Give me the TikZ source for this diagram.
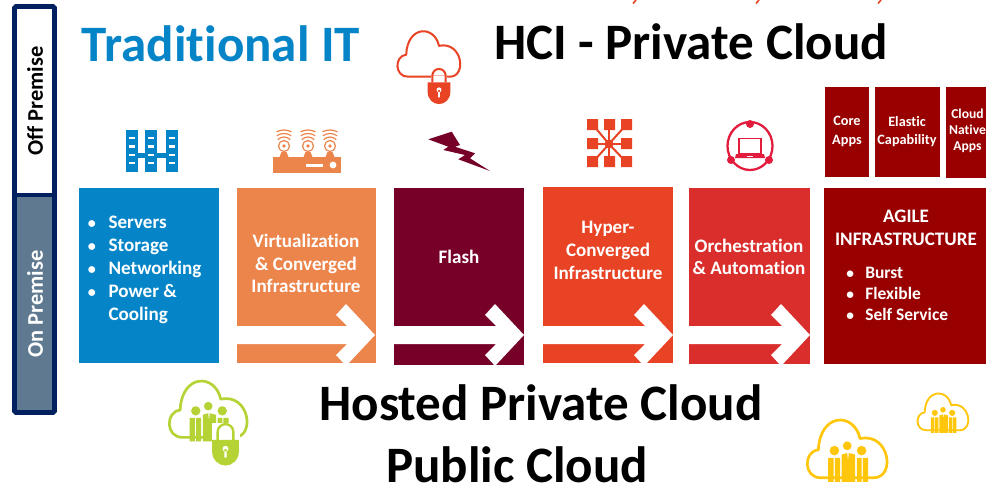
\documentclass[tikz,border=0pt]{standalone}
\usepackage{fontspec}
\setmainfont[Ligatures=CommonOff]{Carlito}
\definecolor{navy}{HTML}{002060}
\definecolor{slate}{HTML}{5F7A90}
\definecolor{tblue}{HTML}{0585C8}
\definecolor{torange}{HTML}{EC854C}
\definecolor{tmaroon}{HTML}{760027}
\definecolor{tred}{HTML}{E84325}
\definecolor{tcrim}{HTML}{D92E2C}
\definecolor{tdark}{HTML}{990000}
\definecolor{tlime}{HTML}{B5D334}
\definecolor{tyellow}{HTML}{FFC60B}
\definecolor{torch}{HTML}{E31B3D}
\newcommand{\fs}[1]{\fontsize{#1}{#1}\selectfont}
\newcommand{\bul}{\makebox[16pt][l]{\hspace{0.5pt}\fs{12}•}}
\newcommand{\nobul}{\makebox[16pt][l]{}}
\newcommand{\smallbul}{\makebox[14.25pt][l]{\fs{11.5}•}}
\newcommand{\cloudicon}[5]{%
 \begin{scope}[shift={(#1,#2)},scale=#3]
  \draw[draw=#4,line width=#5,line join=round]
   (16,71) .. controls (-6,71) and (-6,38) .. (13,36)
   .. controls (15,-11) and (58,-11) .. (65,22)
   .. controls (102,14) and (110,71) .. (82,71) -- cycle;
 \end{scope}}
\newcommand{\peopleicon}[4]{%
 \begin{scope}[shift={(#1,#2)},scale=#3]
  \fill[#4] (33,37) circle (6) (67,37) circle (6);
  \fill[#4] (25,46) rectangle (32,76) (33.5,46) rectangle (40,76);
  \fill[#4] (61,46) rectangle (67,76) (68.5,46) rectangle (75,76);
  \fill[#4] (42,42) -- (49,40) -- (50,50) -- (51,40) -- (59,42) -- (59,76) -- (42,76) -- cycle;
  \fill[#4] (49,31) circle (5.5);
 \end{scope}}
\newcommand{\lockicon}[4]{%
 \begin{scope}[shift={(#1,#2)},scale=#3]
  \draw[draw=#4,line width=#3*1.6pt] (-7,15) -- (-7,8) arc (180:360:7) -- (7,15);
  \fill[#4] (-12,15) -- (12,15) -- (12,25) .. controls (12,33) and (6,38) .. (0,38) .. controls (-6,38) and (-12,33) .. (-12,25) -- cycle;
  \fill[white] (0,23) circle (2.6) (-1,23) rectangle (1,31);
 \end{scope}}
\tikzset{
 lab/.style={text=white,font=\fs{14.3}\bfseries,align=center,inner sep=0pt},
 bigt/.style={font=\fs{38.3}\bfseries,inner sep=0pt,text=black},
 app/.style={text=white,font=\fs{10.7}\bfseries,align=center,inner sep=0pt}
}
\newcommand{\whitearrow}[3]{% left, tip x, centre y
 \fill[white] (#1,#3-9) -- (#2-28,#3-9) -- (#2-39,#3-20) -- (#2-29,#3-31) -- (#2,#3) -- (#2-29,#3+31) -- (#2-39,#3+20) -- (#2-28,#3+9) -- (#1,#3+9) -- cycle;}
\begin{document}
\begin{tikzpicture}[x=0.75pt,y=-0.75pt]
\useasboundingbox (0,0) rectangle (986,489);
\fill[white] (0,0) rectangle (986,489);
% red marks at top edge
\foreach \mx in {633,756,878}
 \draw[draw=tred,line width=1.2pt] (\mx+3,0) -- (\mx,3.5);
% sidebar
\fill[slate] (15,195) rectangle (54,412);
\draw[draw=navy,line width=3.4pt,rounded corners=1pt] (14.5,6.5) rectangle (54.5,412.5);
\draw[draw=navy,line width=3pt] (14.5,195) -- (54.5,195);
\node[rotate=90,font=\fs{16.8}\bfseries,text=black,inner sep=0pt] (off) at (35,101) {Off Premise};
\node[rotate=90,font=\fs{16.8}\bfseries,text=white,inner sep=0pt] (on) at (35,304) {On Premise};
% titles
\node[bigt,text=tblue] (trad) at (221,44) {Traditional IT};
\node[bigt] (hci) at (691,42) {HCI - Private Cloud};
\node[bigt] (hosted) at (541,403) {Hosted Private Cloud};
\node[bigt] (public) at (517,465) {Public Cloud};
% boxes
\fill[tblue] (79,188) rectangle (219,363);
\fill[torange] (237,188) rectangle (376,363);
\fill[tmaroon] (394,188) rectangle (524,365);
\fill[tred] (543,187) rectangle (673,363);
\fill[tcrim] (689,188) rectangle (810,364);
\fill[tdark] (824,188) rectangle (986,364);
\fill[tdark] (825,87) rectangle (869,177);
\fill[tdark] (875,87) rectangle (940,177);
\fill[tdark] (946,87) rectangle (986,178);
% arrows
\whitearrow{237}{375}{335}
\whitearrow{394}{524}{335}
\whitearrow{543}{673}{335}
\whitearrow{689}{810}{335}
% labels
\node[lab,align=left,anchor=north west,execute at begin node={\baselineskip=17.25pt}] (servers) at (87,216) {\bul Servers\\\bul Storage\\\bul Networking\\\bul Power \&\\\nobul Cooling};
\node[lab,execute at begin node={\baselineskip=17pt}] (virt) at (306,263.5) {Virtualization\\\& Converged\\Infrastructure};
\node[lab] (flash) at (459,257) {Flash};
\node[lab,execute at begin node={\baselineskip=17pt}] (hyper) at (608,250.5) {Hyper-\\Converged\\Infrastructure};
\node[lab,execute at begin node={\baselineskip=17pt}] (orch) at (749,257) {Orchestration\\\& Automation};
\node[lab,execute at begin node={\baselineskip=17.5pt}] (agile) at (906,228) {AGILE\\INFRASTRUCTURE};
\node[lab,align=left,anchor=north west,font=\fs{13.1}\bfseries,execute at begin node={\baselineskip=16pt}] (burst) at (846,266.5) {\smallbul Burst\\\smallbul Flexible\\\smallbul Self Service};
\node[app,execute at begin node={\baselineskip=14pt}] (core) at (847,131.5) {Core\\Apps};
\node[app,execute at begin node={\baselineskip=14pt}] (elastic) at (907,131.5) {Elastic\\Capability};
\node[app,font=\fs{10.2}\bfseries,execute at begin node={\baselineskip=12pt}] (native) at (967.5,131) {Cloud\\Native\\Apps};
% server icon
\foreach \cx in {126,145,166}{
 \fill[tblue] (\cx,130) rectangle (\cx+12,172);
 \foreach \ry in {138,146.5,163}
  \fill[white] (\cx+3,\ry-1.2) rectangle (\cx+9,\ry+1.2);
}
\fill[tblue] (137,152.5) rectangle (167,157.5);
\foreach \cx in {126,145,166}
 \fill[white] (\cx+3,153.8) rectangle (\cx+9,156.2);
% router icon
\fill[torange] (273,157) rectangle (341,173);
\fill[white] (306,163.5) rectangle (323,166.5);
\fill[white] (333,165) circle (3.4);
\foreach \ax in {284,308,330}{
 \fill[torange] (\ax-4.5,157) -- (\ax-2.5,152) -- (\ax+2.5,152) -- (\ax+4.5,157) -- cycle;
 \draw[draw=torange,line width=0.9pt] (\ax,146) circle (5.5);
 \fill[torange] (\ax,146) circle (1.8);
 \foreach \rr/\aa/\bb in {9/225/315,12.5/235/305,16/242/298}
  \draw[draw=torange,line width=0.9pt] ([shift={(\aa:\rr)}]\ax,146) arc (\aa:\bb:\rr);
}
% flash icon
\fill[tmaroon] (428.3,139.3) -- (451.7,131.7) -- (460,145) -- (455,146.7) -- (475,153.3) -- (470,158.3) -- (490,171) -- (458.3,159.3) -- (465,155) -- (443.3,150) -- (448.3,146.7) -- cycle;
% hyper icon
\foreach \ex/\ey in {593/125,609/125,626/125,593/144,626/144,593/162,609/162,626/162}
 \draw[draw=tred,line width=1.5pt] (609,144) -- (\ex,\ey);
\fill[tred] (587,119) rectangle (598,130) (604,119) rectangle (615,130) (621,119) rectangle (632,130)
 (587,138) rectangle (598,149) (621,138) rectangle (632,149)
 (587,156) rectangle (598,167) (604,156) rectangle (615,167) (621,156) rectangle (632,167);
\fill[tred] (609,144) circle (4.5);
% orchestration icon
\draw[draw=torch,line width=1.7pt] (750,146) ellipse (22.5 and 24);
\fill[torch] (750,124) circle (4) (731,160) circle (4) (769,160) circle (4);
\draw[draw=torch,line width=1.2pt] (739,138.5) rectangle (761,154);
\fill[torch] (736,154) -- (764,154) -- (765,158) -- (735,158) -- cycle;
\fill[white] (747,155.5) rectangle (753,157);
% clouds
\cloudicon{398}{32}{0.63}{tred}{1.5pt}
\fill[white] (431,76) rectangle (447,84);
\lockicon{439}{68}{0.95}{tred}
\cloudicon{170}{382}{0.78}{tlime}{2pt}
\peopleicon{170}{382}{0.78}{tlime}
\fill[white] (212,423) rectangle (240,440);
\lockicon{225.5}{423}{1.12}{tlime}
\cloudicon{808}{421}{0.8}{tyellow}{2pt}
\peopleicon{808}{421}{0.8}{tyellow}
\cloudicon{918}{394}{0.51}{tyellow}{1.4pt}
\peopleicon{918}{394}{0.51}{tyellow}
\end{tikzpicture}
\end{document}
